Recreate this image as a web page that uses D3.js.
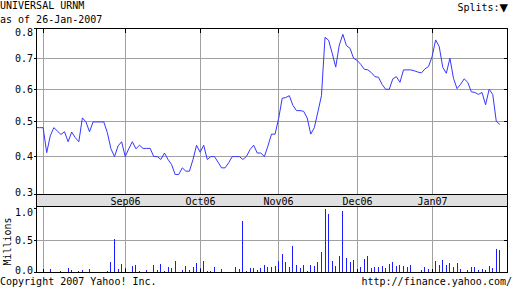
<!DOCTYPE html>
<html>
<head>
<meta charset="utf-8">
<script src="https://cdnjs.cloudflare.com/ajax/libs/d3/7.8.5/d3.min.js"></script>
<style>
  body { margin: 0; background: #fff; }
  text { font-family: "DejaVu Sans Mono", monospace; font-size: 10px; fill: #000; }
</style>
</head>
<body>
<div id="chart"></div>
<script>
const title = "UNIVERSAL URNM";
const asOf = "as of 26-Jan-2007";
const firstDay = new Date(2006, 6, 28);
const lastDay = new Date(2007, 0, 27);

const monthLabels = ["Aug06", "Sep06", "Oct06", "Nov06", "Dec06", "Jan07"];
const monthStarts = ["2006-08-01", "2006-09-01", "2006-10-01", "2006-11-01", "2006-12-01", "2007-01-01"];

const priceTicks = [0.3, 0.4, 0.5, 0.6, 0.7, 0.8];
const volumeTicks = [0.0, 0.5, 1.0];

// closing price, one per weekday from 28-Jul-2006
const price = [
  0.483, 0.483, 0.483, 0.411, 0.459, 0.483, 0.473, 0.463, 0.471, 0.442,
  0.470, 0.454, 0.442, 0.512, 0.500, 0.471, 0.500, 0.500, 0.500, 0.500,
  0.468, 0.422, 0.400, 0.430, 0.442, 0.400, 0.422, 0.442, 0.422, 0.432,
  0.423, 0.423, 0.423, 0.400, 0.400, 0.392, 0.410, 0.392, 0.378, 0.351,
  0.351, 0.369, 0.360, 0.360, 0.392, 0.432, 0.412, 0.432, 0.392, 0.400,
  0.400, 0.385, 0.369, 0.369, 0.383, 0.400, 0.400, 0.400, 0.392, 0.401,
  0.420, 0.432, 0.410, 0.410, 0.400, 0.430, 0.464, 0.464, 0.510, 0.572,
  0.574, 0.580, 0.550, 0.534, 0.534, 0.532, 0.512, 0.464, 0.483, 0.530,
  0.580, 0.770, 0.760, 0.717, 0.671, 0.744, 0.780, 0.742, 0.733, 0.700,
  0.693, 0.680, 0.664, 0.662, 0.653, 0.640, 0.638, 0.615, 0.600, 0.600,
  0.633, 0.640, 0.622, 0.662, 0.662, 0.662, 0.659, 0.655, 0.652, 0.665,
  0.673, 0.705, 0.761, 0.739, 0.670, 0.651, 0.700, 0.635, 0.602, 0.616,
  0.633, 0.622, 0.592, 0.590, 0.584, 0.590, 0.552, 0.600, 0.584, 0.502,
  0.492
];

// volume in millions, same days
const volume = [
  0, 0, 0, 0, 0.040, 0, 0, 0.016, 0, 0.068,
  0.026, 0, 0.016, 0.026, 0, 0.040, 0, 0, 0, 0,
  0.010, 0.156, 0.526, 0.040, 0.120, 0.060, 0, 0.094, 0.115, 0.010,
  0, 0.030, 0, 0.104, 0.030, 0.120, 0.010, 0.073, 0.060, 0.167,
  0, 0.030, 0.089, 0.030, 0.078, 0.135, 0.068, 0.170, 0.016, 0.016,
  0.073, 0, 0.040, 0, 0, 0, 0.083, 0.040, 0.800, 0.016,
  0.057, 0.057, 0.026, 0.068, 0.115, 0.083, 0.073, 0.089, 0.170, 0.290,
  0.156, 0.073, 0.417, 0.104, 0.057, 0.115, 0.016, 0.104, 0.089, 0.156,
  0.320, 1.000, 0.917, 0.167, 0.094, 0.245, 0.960, 0.214, 0.156, 0.190,
  0, 0.073, 0.198, 0.245, 0.063, 0.073, 0.073, 0.089, 0.057, 0.120,
  0.156, 0.089, 0.104, 0.089, 0.073, 0.104, 0, 0, 0.026, 0.073,
  0.040, 0, 0.167, 0.115, 0.182, 0.104, 0.135, 0.083, 0.135, 0.040,
  0, 0.026, 0.073, 0.073, 0.026, 0.040, 0.026, 0.089, 0.063, 0.370,
  0.340
];

const W = 512, H = 288;
const left = 36.5, right = 507.5;
const pTop = 28.5, pBottom = 194.5;   // price panel
const bandBottom = 206.5;             // date band
const vBottom = 272.5;                // volume panel

const gridColor = "#a0a0a0";
const lineColor = "#3636ff";
const barColor = "#1c1cff";

// x axis counts weekdays
const days = d3.timeDay.range(firstDay, lastDay).filter(d => d.getDay() % 6 !== 0);
const parse = d3.timeParse("%Y-%m-%d");
const monthIdx = monthStarts.map(s => days.findIndex(d => d >= parse(s)));

const x = d3.scaleLinear().domain([0, 132]).range([36, 507]);
const yPrice = d3.scalePow().exponent(0.7).domain([0.3, 0.8]).range([194, 28.5]);
const yVol = d3.scaleLinear().domain([0, 1]).range([272, 208.5]);

const crisp = v => Math.floor(v) + 0.5;

const svg = d3.select("#chart").append("svg")
  .attr("width", W).attr("height", H)
  .style("display", "block");

// date band
svg.append("rect")
  .attr("x", left).attr("y", pBottom)
  .attr("width", right - left).attr("height", bandBottom - pBottom)
  .attr("fill", "#e0e0e0");

// gridlines
const grid = svg.append("g").attr("stroke", gridColor).attr("shape-rendering", "crispEdges");
grid.selectAll(".hp").data(priceTicks.slice(1, -1)).join("line")
  .attr("x1", left).attr("x2", right)
  .attr("y1", d => crisp(yPrice(d))).attr("y2", d => crisp(yPrice(d)));
grid.selectAll(".hv").data([0.5]).join("line")
  .attr("x1", left).attr("x2", right)
  .attr("y1", d => crisp(yVol(d))).attr("y2", d => crisp(yVol(d)));
grid.selectAll(".vp").data(monthIdx).join("line")
  .attr("x1", d => crisp(x(d))).attr("x2", d => crisp(x(d)))
  .attr("y1", pTop).attr("y2", pBottom);
grid.selectAll(".vv").data(monthIdx).join("line")
  .attr("x1", d => crisp(x(d))).attr("x2", d => crisp(x(d)))
  .attr("y1", bandBottom).attr("y2", vBottom);

svg.append("clipPath").attr("id", "clipP")
  .append("rect").attr("x", left).attr("y", pTop).attr("width", right - left).attr("height", pBottom - pTop);

// price line
const line = d3.line()
  .defined(d => d != null)
  .x((d, i) => x(i))
  .y(d => yPrice(d));

svg.append("path")
  .datum(price)
  .attr("clip-path", "url(#clipP)")
  .attr("fill", "none")
  .attr("stroke", lineColor)
  .attr("stroke-width", 1)
  .attr("d", line);

// volume bars
svg.append("g").attr("stroke", barColor).attr("shape-rendering", "crispEdges")
  .selectAll("line")
  .data(volume.map((v, i) => ({ v, i })).filter(d => d.v > 0))
  .join("line")
  .attr("x1", d => crisp(x(d.i))).attr("x2", d => crisp(x(d.i)))
  .attr("y1", vBottom).attr("y2", d => Math.max(bandBottom + 1, yVol(d.v)));

// frames and ticks
const ink = svg.append("g").attr("stroke", "#000").attr("fill", "none").attr("shape-rendering", "crispEdges");
ink.append("rect").attr("x", left).attr("y", pTop).attr("width", right - left).attr("height", pBottom - pTop);
ink.append("rect").attr("x", left).attr("y", pBottom).attr("width", right - left).attr("height", bandBottom - pBottom);
ink.append("rect").attr("x", left).attr("y", bandBottom).attr("width", right - left).attr("height", vBottom - bandBottom);

ink.selectAll(".tl").data(priceTicks).join("line")
  .attr("x1", left - 3).attr("x2", left)
  .attr("y1", d => crisp(yPrice(d))).attr("y2", d => crisp(yPrice(d)));
ink.selectAll(".tr").data(priceTicks.slice(1, -1)).join("line")
  .attr("x1", right - 4).attr("x2", right)
  .attr("y1", d => crisp(yPrice(d))).attr("y2", d => crisp(yPrice(d)));
ink.selectAll(".vl").data(volumeTicks).join("line")
  .attr("x1", left - 3).attr("x2", left)
  .attr("y1", d => crisp(Math.max(bandBottom, yVol(d)))).attr("y2", d => crisp(Math.max(bandBottom, yVol(d))));
ink.selectAll(".vr").data([0.5]).join("line")
  .attr("x1", right - 4).attr("x2", right)
  .attr("y1", d => crisp(yVol(d))).attr("y2", d => crisp(yVol(d)));
ink.selectAll(".mt").data(monthIdx).join("line")
  .attr("x1", d => crisp(x(d))).attr("x2", d => crisp(x(d)))
  .attr("y1", pTop).attr("y2", pTop + 4);
ink.selectAll(".mb").data(monthIdx).join("line")
  .attr("x1", d => crisp(x(d))).attr("x2", d => crisp(x(d)))
  .attr("y1", vBottom - 4).attr("y2", vBottom);

// axis labels
svg.append("g").selectAll("text").data(priceTicks).join("text")
  .attr("x", 33).attr("text-anchor", "end")
  .attr("y", d => Math.min(192, Math.max(32.5, yPrice(d))))
  .attr("dy", "0.35em")
  .text(d => d3.format(".1f")(d));

svg.append("g").selectAll("text").data(volumeTicks).join("text")
  .attr("x", 33).attr("text-anchor", "end")
  .attr("y", d => Math.min(270.5, Math.max(212.5, yVol(d))))
  .attr("dy", "0.35em")
  .text(d => d3.format(".1f")(d));

svg.append("text")
  .attr("transform", "translate(11,241.5) rotate(-90)")
  .attr("text-anchor", "middle")
  .text("Millions");

svg.append("g").selectAll("text")
  .data(monthIdx.map((d, i) => ({ d, label: monthLabels[i] })).filter(m => x(m.d) - 15 > left))
  .join("text")
  .attr("x", m => crisp(x(m.d)))
  .attr("y", 204.5)
  .attr("text-anchor", "middle")
  .text(m => m.label);

// header / footer
svg.append("text").attr("x", 0).attr("y", 9).text(title);
svg.append("text").attr("x", 0).attr("y", 23).text(asOf);
const splits = svg.append("text").attr("x", 508).attr("y", 11).attr("text-anchor", "end");
splits.append("tspan").text("Splits:");
splits.append("tspan").style("font-size", "14px").attr("dy", "0.5").text("\u25BC");
svg.append("text").attr("x", 0).attr("y", 285).text("Copyright 2007 Yahoo! Inc.");
svg.append("text").attr("x", 512).attr("y", 285).attr("text-anchor", "end").text("http://finance.yahoo.com/");
</script>
</body>
</html>
